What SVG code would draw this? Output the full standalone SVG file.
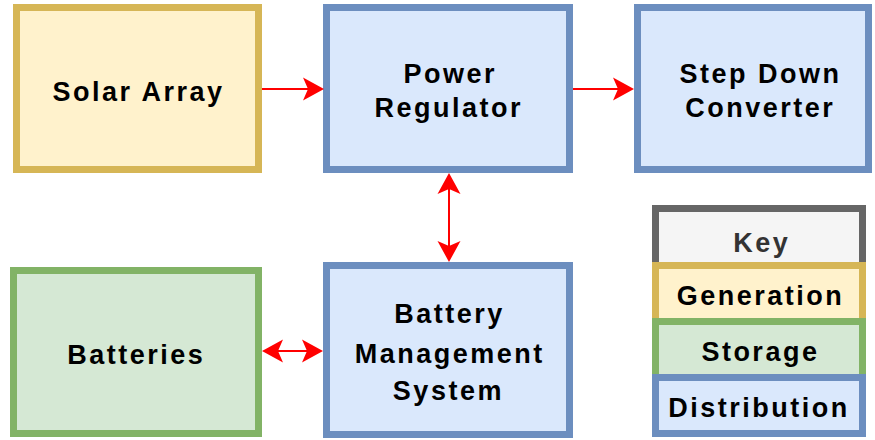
<svg xmlns="http://www.w3.org/2000/svg" width="875" height="440" viewBox="0 0 875 440">
  <style>
    .box { stroke-width: 7; }
    .gen { fill: #fff2cc; stroke: #d6b656; }
    .dist { fill: #dae8fc; stroke: #6c8ebf; }
    .stor { fill: #d5e8d4; stroke: #82b366; }
    .key { fill: #f5f5f5; stroke: #666666; }
    text { font-family: "Liberation Sans", Arial, sans-serif; font-size: 27px; font-weight: bold; letter-spacing: 2.5px; text-anchor: middle; fill: #000000; }
    .keytxt { fill: #333333; }
    .conn { fill: none; stroke: #ff0000; stroke-width: 2; }
  </style>
  <defs>
    <marker id="arr" viewBox="-19 -13 24 26" markerUnits="userSpaceOnUse" markerWidth="24" markerHeight="26" refX="0" refY="0" orient="auto-start-reverse">
      <path d="M4,0 L-17,-11.5 L-12,0 L-17,11.5 Z" fill="#ff0000"/>
    </marker>
  </defs>
  <rect width="875" height="440" fill="#ffffff"/>
  <g id="solar-array">
    <rect class="box gen" x="16.5" y="7.5" width="242" height="162"/>
    <text x="138.6" y="101" letter-spacing="2.3">Solar Array</text>
  </g>
  <g id="power-regulator">
    <rect class="box dist" x="326.5" y="7.5" width="243" height="162"/>
    <text x="450.2" y="83" letter-spacing="3.5">Power</text>
    <text x="448.7" y="117" letter-spacing="2.4">Regulator</text>
  </g>
  <g id="step-down-converter">
    <rect class="box dist" x="637.5" y="7.5" width="231" height="162"/>
    <text x="760.4" y="83" letter-spacing="2.8">Step Down</text>
    <text x="760.2" y="117" letter-spacing="2.5">Converter</text>
  </g>
  <g id="batteries">
    <rect class="box stor" x="13.5" y="270.5" width="245" height="163"/>
    <text x="136.2" y="364" letter-spacing="2.3">Batteries</text>
  </g>
  <g id="battery-management-system">
    <rect class="box dist" x="326.5" y="265.5" width="243" height="169"/>
    <text x="449.6" y="323" letter-spacing="2.3">Battery</text>
    <text x="449.7" y="363" letter-spacing="3.4">Management</text>
    <text x="448.4" y="400" letter-spacing="2.8">System</text>
  </g>
  <g id="key">
    <rect class="box key" x="655.5" y="208.5" width="207" height="57"/>
    <text class="keytxt" x="761.7" y="252" letter-spacing="3.5">Key</text>
  </g>
  <g id="key-generation">
    <rect class="box gen" x="655.5" y="265.5" width="207" height="56"/>
    <text x="760.5" y="305" letter-spacing="2.5">Generation</text>
  </g>
  <g id="key-storage">
    <rect class="box stor" x="655.5" y="321.5" width="207" height="56"/>
    <text x="760.4" y="361" letter-spacing="2.4">Storage</text>
  </g>
  <g id="key-distribution">
    <rect class="box dist" x="655.5" y="377.5" width="207" height="56"/>
    <text x="759" y="417" letter-spacing="1.7">Distribution</text>
  </g>
  <g id="connectors">
    <path class="conn" d="M262,89 L320,89" marker-end="url(#arr)"/>
    <path class="conn" d="M573,89 L630,89" marker-end="url(#arr)"/>
    <path class="conn" d="M449,177 L449,258" marker-start="url(#arr)" marker-end="url(#arr)"/>
    <path class="conn" d="M266,351 L319,351" marker-start="url(#arr)" marker-end="url(#arr)"/>
  </g>
</svg>
